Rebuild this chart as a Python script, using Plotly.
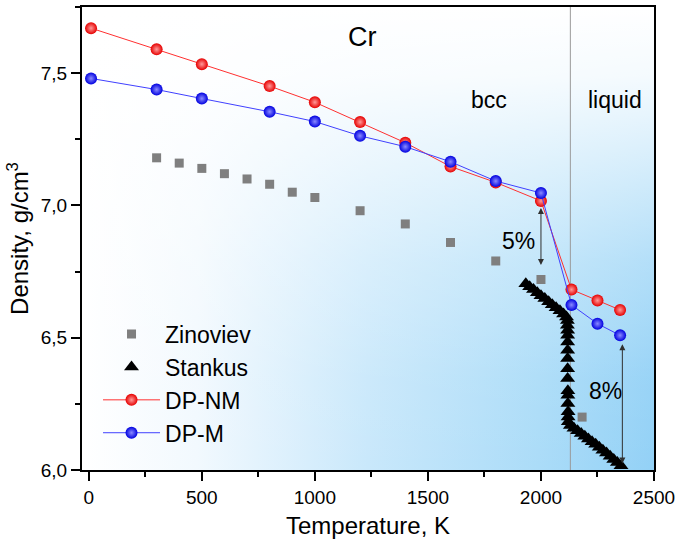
import base64
import plotly.graph_objects as go

# ---------------- data ----------------
dp_T = [10, 300, 500, 800, 1000, 1200, 1400, 1600, 1800, 2000, 2135, 2250, 2350]
dp_nm = [7.67, 7.59, 7.534, 7.451, 7.39, 7.315, 7.237, 7.147, 7.087, 7.017, 6.682, 6.641, 6.605]
dp_m = [7.48, 7.438, 7.404, 7.354, 7.317, 7.263, 7.222, 7.165, 7.092, 7.047, 6.624, 6.553, 6.509]

zin_T = [300, 400, 500, 600, 700, 800, 900, 1000, 1200, 1400, 1600, 1800, 2000, 2182]
zin_rho = [7.18, 7.16, 7.14, 7.12, 7.10, 7.08, 7.05, 7.03, 6.98, 6.93, 6.86, 6.79, 6.72, 6.20]

stk_T = [1933, 1950, 1967, 1984, 2000, 2017, 2034, 2050, 2067, 2084, 2100, 2113,
         2117, 2117, 2118, 2118, 2118, 2118, 2118, 2118, 2118, 2119, 2119, 2119, 2120, 2120, 2121,
         2130, 2146, 2162, 2178, 2194, 2210, 2226, 2242, 2258, 2274, 2290, 2306, 2322, 2338, 2354]
stk_rho = [6.704, 6.693, 6.682, 6.670, 6.659, 6.648, 6.636, 6.625, 6.613, 6.602, 6.590, 6.578,
           6.565, 6.547, 6.528, 6.509, 6.484, 6.453, 6.421, 6.383, 6.346, 6.300, 6.283, 6.251,
           6.220, 6.200, 6.182,
           6.168, 6.158, 6.148, 6.138, 6.128, 6.117, 6.107, 6.097, 6.086, 6.075, 6.064, 6.052,
           6.040, 6.028, 6.016]

x_ticks = [0, 500, 1000, 1500, 2000, 2500]
y_ticks = [6.0, 6.5, 7.0, 7.5]
y_ticktext = ["6,0", "6,5", "7,0", "7,5"]

T_melt = 2130
arrow5 = (2000, 7.0, 6.775)
arrow8 = (2360, 6.485, 6.025)

FONT = "Liberation Sans, Arial, sans-serif"

# ---------------- background gradient (svg) ----------------
svg = """<svg xmlns='http://www.w3.org/2000/svg' width='100' height='100' viewBox='0 0 100 100' preserveAspectRatio='none'>
<defs>
<linearGradient id='h' x1='0' y1='0' x2='1' y2='0'>
<stop offset='0' stop-color='#ffffff'/>
<stop offset='0.2' stop-color='#f2f9fe'/>
<stop offset='0.5' stop-color='#c9e8fb'/>
<stop offset='0.8' stop-color='#abdcf8'/>
<stop offset='1' stop-color='#93d1f6'/>
</linearGradient>
<linearGradient id='v' x1='0' y1='0' x2='0' y2='1'>
<stop offset='0' stop-color='#ffffff' stop-opacity='1'/>
<stop offset='0.15' stop-color='#ffffff' stop-opacity='0.9'/>
<stop offset='0.35' stop-color='#ffffff' stop-opacity='0.6'/>
<stop offset='0.55' stop-color='#ffffff' stop-opacity='0.3'/>
<stop offset='0.8' stop-color='#ffffff' stop-opacity='0.06'/>
<stop offset='1' stop-color='#ffffff' stop-opacity='0'/>
</linearGradient>
</defs>
<rect x='0' y='0' width='100' height='100' fill='url(#h)'/>
<rect x='0' y='0' width='100' height='100' fill='url(#v)'/>
</svg>"""
bg_uri = "data:image/svg+xml;base64," + base64.b64encode(svg.encode()).decode()

fig = go.Figure()

fig.add_trace(go.Scatter(
    x=zin_T, y=zin_rho, mode="markers", name="Zinoviev",
    marker=dict(symbol="square", size=9, color="#7f7f7f")))

fig.add_trace(go.Scatter(
    x=stk_T, y=stk_rho, mode="markers", name="Stankus",
    marker=dict(symbol="triangle-up", size=13, color="#000000")))

fig.add_trace(go.Scatter(
    x=dp_T, y=dp_nm, mode="lines+markers", name="DP-NM",
    line=dict(color="#ff3030", width=1),
    marker=dict(size=12, color="#e60000",
                gradient=dict(type="radial", color="#ff9a9a"),
                line=dict(width=0))))

fig.add_trace(go.Scatter(
    x=dp_T, y=dp_m, mode="lines+markers", name="DP-M",
    line=dict(color="#4040ff", width=1),
    marker=dict(size=12, color="#0000e0",
                gradient=dict(type="radial", color="#8a8aff"),
                line=dict(width=0))))

# vertical melting line
fig.add_shape(type="line", x0=T_melt, x1=T_melt, y0=0, y1=1, xref="x", yref="paper",
              line=dict(color="#9a9a9a", width=1), layer="below")

annotations = [
    dict(x=0.5, y=0.935, xref="paper", yref="paper", text="Cr", showarrow=False,
         font=dict(size=27, color="black", family=FONT), xanchor="center", yanchor="middle",
         xshift=-6),
    dict(x=1769, y=7.40, text="bcc", showarrow=False,
         font=dict(size=23, color="black", family=FONT)),
    dict(x=2328, y=7.40, text="liquid", showarrow=False,
         font=dict(size=23, color="black", family=FONT)),
    dict(x=1900, y=6.865, text="5%", showarrow=False,
         font=dict(size=23, color="black", family=FONT)),
    dict(x=2285, y=6.30, text="8%", showarrow=False,
         font=dict(size=23, color="black", family=FONT)),
]
for (ax_x, y_top, y_bot) in [arrow5, arrow8]:
    annotations.append(dict(
        x=ax_x, y=y_bot, ax=ax_x, ay=y_top, xref="x", yref="y", axref="x", ayref="y",
        text=" ", font=dict(size=2), showarrow=True, arrowhead=2, startarrowhead=2,
        arrowside="end+start",
        arrowsize=1.2, startarrowsize=1.2, arrowwidth=1, arrowcolor="#303030",
        standoff=0, startstandoff=0))

fig.update_layout(
    width=680, height=546,
    margin=dict(l=82, r=23, t=5, b=76),
    paper_bgcolor="white",
    plot_bgcolor="rgba(0,0,0,0)",
    font=dict(family=FONT, size=19, color="black"),
    separators=",.",
    images=[dict(source=bg_uri, xref="paper", yref="paper", x=0, y=1, sizex=1, sizey=1,
                 sizing="stretch", layer="below", xanchor="left", yanchor="top")],
    annotations=annotations,
    showlegend=True,
    legend=dict(x=0.028, y=0.34, xanchor="left", yanchor="top",
                bgcolor="rgba(0,0,0,0)", font=dict(size=23, family=FONT),
                tracegroupgap=0, itemwidth=57),
)

fig.update_xaxes(
    range=[-30, 2500], tickvals=x_ticks, tickformat="d",
    showline=True, linecolor="black", linewidth=2, mirror=True,
    ticks="outside", ticklen=9, tickwidth=2, tickcolor="black",
    minor=dict(dtick=250, tick0=0, ticks="outside", ticklen=5, tickwidth=2, tickcolor="black"),
    showgrid=False, zeroline=False,
    tickfont=dict(size=19),
    title=dict(text="Temperature, K", font=dict(size=24), standoff=10),
)
fig.update_yaxes(
    range=[6.0, 7.75], tickvals=y_ticks, ticktext=y_ticktext,
    showline=True, linecolor="black", linewidth=2, mirror=True,
    ticks="outside", ticklen=9, tickwidth=2, tickcolor="black",
    minor=dict(dtick=0.25, tick0=6.0, ticks="outside", ticklen=5, tickwidth=2, tickcolor="black"),
    showgrid=False, zeroline=False,
    tickfont=dict(size=19),
    title=dict(text="Density, g/cm<sup>3</sup>", font=dict(size=24), standoff=5),
)

fig.write_html("out.html")
